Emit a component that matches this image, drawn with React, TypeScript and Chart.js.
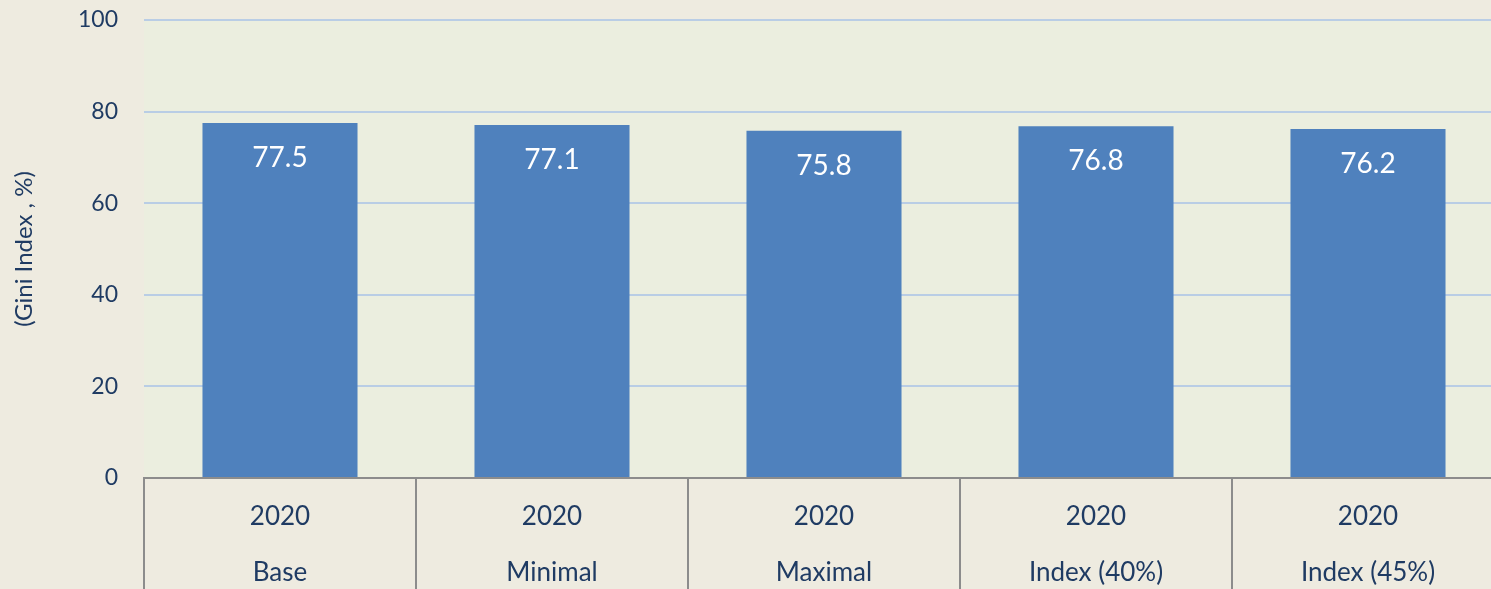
import React, { useEffect, useRef } from "react";
import { Chart, registerables } from "chart.js";

Chart.register(...registerables);

const yearLabels = ["2020", "2020", "2020", "2020", "2020"];
const scenarioLabels = ["Base", "Minimal", "Maximal", "Index (40%)", "Index (45%)"];
const giniValues = [77.5, 77.1, 75.8, 76.8, 76.2];
const yTickMin = 0;
const yTickMax = 100;
const yTickStep = 20;
const yAxisTitle = "(Gini Index , %)";

const FONT = "Lato, 'Open Sans', sans-serif";
const TEXT = "#1F3B63";

const bgPlugin = {
  id: "bgPlugin",
  beforeDraw(chart: any) {
    const { ctx, chartArea, width, height } = chart;
    ctx.save();
    ctx.fillStyle = "#EEEBE0";
    ctx.fillRect(0, 0, width, height);
    ctx.fillStyle = "#EBEEDF";
    ctx.fillRect(chartArea.left, chartArea.top, chartArea.right - chartArea.left, chartArea.bottom - chartArea.top);
    ctx.restore();
  },
};

const valueLabelPlugin = {
  id: "valueLabelPlugin",
  afterDatasetsDraw(chart: any) {
    const { ctx } = chart;
    const meta = chart.getDatasetMeta(0);
    const data = chart.data.datasets[0].data;
    ctx.save();
    ctx.fillStyle = "#FFFFFF";
    ctx.font = `28px ${FONT}`;
    ctx.textAlign = "center";
    ctx.textBaseline = "middle";
    meta.data.forEach((el: any, i: number) => {
      ctx.fillText(Number(data[i]).toFixed(1), el.x, el.y + 35);
    });
    ctx.restore();
  },
};

// vertical category divider lines below the axis (multi-level category box)
const dividerPlugin = {
  id: "dividerPlugin",
  afterDraw(chart: any) {
    const { ctx, height } = chart;
    const xs = chart.scales.x;
    const n = chart.data.labels.length;
    ctx.save();
    ctx.strokeStyle = "#8C8C8C";
    ctx.lineWidth = 2;
    ctx.beginPath();
    for (let i = 0; i <= n; i++) {
      const px = Math.round(xs.getPixelForValue(i - 0.5));
      ctx.moveTo(px, xs.top);
      ctx.lineTo(px, height);
    }
    ctx.stroke();
    ctx.restore();
  },
};

export default function App() {
  const ref = useRef<HTMLCanvasElement | null>(null);
  useEffect(() => {
    document.body.style.overflow = "hidden";
    const labels = yearLabels.map((y, i) => [y, scenarioLabels[i]]);
    const chart = new Chart(ref.current as HTMLCanvasElement, {
      type: "bar",
      data: {
        labels,
        datasets: [
          {
            data: giniValues,
            backgroundColor: "#4F81BD",
            borderWidth: 0,
            barPercentage: 0.57,
            categoryPercentage: 1,
          },
        ],
      },
      options: {
        animation: false,
        responsive: true,
        maintainAspectRatio: false,
        layout: { padding: { top: 20, left: 0, right: 0, bottom: 0 } },
        plugins: {
          legend: { display: false },
          tooltip: { enabled: false },
        },
        scales: {
          x: {
            offset: true,
            afterFit(scale: any) {
              scale.height = 123;
            },
            grid: { display: false, drawOnChartArea: false, drawTicks: false },
            border: { display: true, color: "#8C8C8C", width: 2 },
            ticks: {
              padding: 11,
              color: TEXT,
              font: { family: FONT, size: 26, lineHeight: 2.15 },
              maxRotation: 0,
              autoSkip: false,
            },
          },
          y: {
            min: yTickMin,
            max: yTickMax,
            afterFit(scale: any) {
              scale.width = 144;
            },
            grid: {
              color: "#B9CDE5",
              lineWidth: 2,
              drawTicks: true,
              tickLength: 26,
              tickColor: "rgba(0,0,0,0)",
            },
            border: { display: false },
            ticks: {
              stepSize: yTickStep,
              padding: 0,
              color: TEXT,
              font: { family: FONT, size: 23 },
            },
            title: {
              display: true,
              text: yAxisTitle,
              color: TEXT,
              font: { family: FONT, size: 24 },
              padding: { top: 10, bottom: 0 },
            },
          },
        },
      },
      plugins: [bgPlugin, valueLabelPlugin, dividerPlugin],
    });
    return () => chart.destroy();
  }, []);
  return (
    <div style={{ position: "fixed", left: 0, top: 0, width: 1504, height: 601 }}>
      <canvas ref={ref} />
    </div>
  );
}
